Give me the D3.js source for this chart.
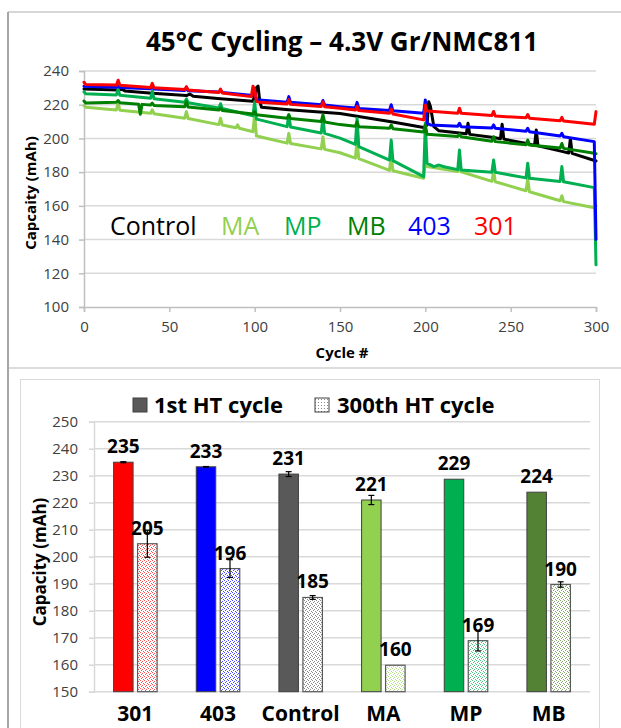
<!DOCTYPE html>
<html><head><meta charset="utf-8">
<script src="https://cdn.jsdelivr.net/npm/d3@7"></script>
<style>body{margin:0;background:#fff}svg{display:block}</style>
</head><body>
<svg id="c" width="621" height="728"></svg>
<script>
// ---------- Top chart data ----------
const lineTitle = "45°C Cycling – 4.3V Gr/NMC811";
const cycleTicks = [0, 50, 100, 150, 200, 250, 300];
const capTicks = [100, 120, 140, 160, 180, 200, 220, 240];
const seriesNames = ["Control", "MA", "MP", "MB", "403", "301"];

const dataControl = [[0,229.3],[20,228.7],[22,229.4],[24,228.2],[40,226.8],[60,225.4],[62,226.3],[64,225],[80,223.5],[99,222],[101,230],[102,231],[103,222],[104,218.5],[120,217],[140,215.5],[150,214.8],[160,213.2],[180,209.9],[199,206.5],[201,208],[202,221.8],[203,219],[205,207],[208,204.5],[224,202.8],[225,209],[226,202.4],[240,200.5],[244,199.8],[245,208.4],[246,199.6],[260,196.8],[264,195.8],[265,205],[266,195.6],[280,192.3],[284,191.4],[285,200],[286,191.1],[300,186.6]];
const dataMA = [[0,219.4],[1,218.5],[19,216.9],[20,221],[21,216.7],[39,214.9],[40,217],[41,214.7],[59,212],[60,215.9],[61,211.8],[79,208.2],[80,212],[81,208],[89,206.3],[90,208],[91,206],[99,204],[100,214.9],[101,201.5],[103,201],[119,197.2],[120,203],[121,197],[139,193.8],[140,201],[141,193.5],[150,191.5],[159,188.3],[160,199],[161,188],[179,181],[180,190],[181,180.8],[199,176.4],[200,186],[201,183.3],[219,180.4],[220,182.5],[221,180.2],[239,174.5],[240,181],[241,174.3],[259,169],[260,176],[261,168.4],[279,163],[280,166],[281,162.5],[299,158.9],[300,160]];
const dataMP = [[0,227.7],[1,226.5],[19,225.8],[20,229.3],[21,225.6],[39,223.8],[40,228],[41,223.6],[59,221.4],[60,223.5],[61,221.2],[79,218],[80,220.6],[81,217.8],[99,213.5],[100,221.8],[101,211.5],[103,211],[119,207],[120,214],[121,206.8],[139,203.2],[140,212],[141,203],[150,200.2],[159,196.5],[160,212],[161,195.2],[179,187.2],[180,199],[181,186.8],[199,177.3],[200,209],[201,185.3],[205,183.3],[208,184.2],[211,183.2],[219,181.5],[220,193.1],[221,181.3],[239,180],[240,187.2],[241,179.9],[259,176.6],[260,185.3],[261,176.4],[279,174.5],[280,183.3],[281,174.3],[299,170.8],[300,125]];
const dataMB = [[0,222.2],[1,221],[19,221.4],[20,222.5],[21,221.2],[32,220.3],[33,214.3],[34,220.2],[39,219.8],[40,221],[41,219.6],[59,218.8],[60,222],[61,218.6],[79,216.8],[80,218],[81,216.6],[99,214.5],[100,216],[101,214],[119,212],[120,214],[121,211.8],[139,210],[140,214],[141,209.8],[150,208.2],[159,207.2],[160,209.9],[161,207],[179,206],[180,208],[181,205.8],[199,203.8],[200,208],[201,202.5],[219,201.2],[220,202.5],[221,201],[239,198.3],[240,201],[241,198.1],[259,196.3],[260,199],[261,196.1],[279,194.3],[280,197],[281,194.1],[299,191.2],[300,191]];
const data403 = [[0,231],[19,230.4],[20,231.5],[21,230.2],[39,229.5],[40,230.5],[41,229.3],[59,228.5],[60,229.5],[61,228.3],[79,227.5],[80,228.5],[81,227.3],[99,225.5],[100,228],[101,223],[119,221.5],[120,224.8],[121,221.4],[139,220],[140,222.5],[141,219.8],[150,218.8],[159,218],[160,221.4],[161,217.8],[179,216.6],[180,220],[181,216.4],[199,214.9],[200,222.8],[201,209],[203,208],[219,207.2],[220,209],[221,207],[239,206.2],[240,208],[241,206],[259,204.2],[260,206],[261,204],[279,201.4],[280,203],[281,201],[299,198.1],[300,140]];
const data301 = [[0,233.3],[1,232],[19,231.7],[20,234.5],[21,231.5],[39,230.2],[40,232.7],[41,230],[59,229],[60,230.7],[61,228.7],[79,227.3],[80,229.3],[81,227],[98,224.8],[99,231],[100,229],[101,222],[103,221.4],[119,220.4],[120,223],[121,220.2],[139,218.9],[140,221.8],[141,218.8],[150,217.9],[159,216.8],[160,219],[161,216.5],[179,214.9],[180,217.5],[181,214.5],[199,211],[200,219.8],[201,216.3],[219,215],[220,217.9],[221,214.9],[239,213.6],[240,216],[241,213.3],[259,212.2],[260,214.2],[261,212],[279,210.5],[280,212.5],[281,210.3],[299,208.4],[300,215.9]];
const lineData = [dataControl, dataMA, dataMP, dataMB, data403, data301];
const lineColors = ["#000000", "#92d050", "#00b050", "#008000", "#0000ff", "#ff0000"];

// ---------- Bottom chart data ----------
const barCategories = ["301", "403", "Control", "MA", "MP", "MB"];
const barLegend = ["1st HT cycle", "300th HT cycle"];
const firstHT = [235.0, 233.3, 230.6, 221.0, 228.7, 223.9];
const firstHTErr = [0.2, 0.1, 0.9, 1.7, 0, 0];
const lastHT = [204.8, 195.6, 184.9, 159.8, 168.9, 189.7];
const lastHTErr = [5.0, 3.3, 0.7, 0, 3.8, 1.0];
const firstLabels = ["235", "233", "231", "221", "229", "224"];
const lastLabels = ["205", "196", "185", "160", "169", "190"];
const barTicks = [150, 160, 170, 180, 190, 200, 210, 220, 230, 240, 250];
const barColors = ["#ff0000", "#0000ff", "#595959", "#92d050", "#00b050", "#548235"];

const FONT = "'Open Sans', 'Noto Sans', sans-serif";
const svg = d3.select("#c").style("font-family", FONT);

// ---------- frames ----------
svg.append("line").attr("x1", 8).attr("x2", 621).attr("y1", 12).attr("y2", 12).attr("stroke", "#c8c8c8").attr("stroke-width", 1.5);
svg.append("line").attr("x1", 8).attr("x2", 621).attr("y1", 368).attr("y2", 368).attr("stroke", "#d0d0d0").attr("stroke-width", 1.5);
svg.append("line").attr("x1", 8).attr("x2", 8).attr("y1", 12).attr("y2", 728).attr("stroke", "#a6a6a6").attr("stroke-width", 2);
svg.append("rect").attr("x", 20.5).attr("y", 379.5).attr("width", 579).attr("height", 360).attr("fill", "none").attr("stroke", "#d9d9d9").attr("stroke-width", 1);

// ---------- top chart ----------
const x1 = d3.scaleLinear().domain([0, 300]).range([84, 596]);
const y1 = d3.scaleLinear().domain([100, 240]).range([307, 71]);

svg.append("g").selectAll("line").data(capTicks.filter(d => d !== 100)).join("line")
  .attr("x1", x1(0)).attr("x2", x1(300)).attr("y1", d => y1(d)).attr("y2", d => y1(d))
  .attr("stroke", "#d9d9d9").attr("stroke-width", 1.5);

const yAx1 = svg.append("g").attr("transform", `translate(${x1(0)},0)`)
  .call(d3.axisLeft(y1).tickValues(capTicks).tickSize(5).tickPadding(10));
const xAx1 = svg.append("g").attr("transform", `translate(0,${y1(100)})`)
  .call(d3.axisBottom(x1).tickValues(cycleTicks).tickSize(5).tickPadding(9));
[yAx1, xAx1].forEach(a => {
  a.select(".domain").attr("stroke", "#bfbfbf").attr("stroke-width", 1.5);
  a.selectAll(".tick line").attr("stroke", "#bfbfbf").attr("stroke-width", 1.5);
  a.selectAll("text").attr("font-size", 15).attr("fill", "#404040").attr("font-family", FONT);
});

const line = d3.line().x(d => x1(d[0])).y(d => y1(d[1]));
svg.append("g").selectAll("path").data(lineData).join("path")
  .attr("d", line).attr("fill", "none")
  .attr("stroke", (d, i) => lineColors[i]).attr("stroke-width", 3)
  .attr("stroke-linejoin", "round").attr("stroke-linecap", "round");

svg.append("text").attr("x", 342).attr("y", 51).attr("text-anchor", "middle")
  .attr("font-size", 26).attr("font-weight", "bold").attr("fill", "#000").text(lineTitle);
svg.append("text").attr("x", 342).attr("y", 358).attr("text-anchor", "middle")
  .attr("font-size", 15).attr("font-weight", "bold").attr("fill", "#000").text("Cycle #");
svg.append("text").attr("transform", "translate(36,193) rotate(-90)").attr("text-anchor", "middle")
  .attr("font-size", 15).attr("font-weight", "bold").attr("fill", "#000").text("Capcaity (mAh)");

const legendX = [110, 221, 284, 347, 408, 474];
svg.append("g").selectAll("text").data(seriesNames).join("text")
  .attr("x", (d, i) => legendX[i]).attr("y", 235)
  .attr("font-size", 25).attr("fill", (d, i) => lineColors[i]).text(d => d);

// ---------- bottom chart ----------
const defs = svg.append("defs");
barColors.forEach((c, i) => {
  const p = defs.append("pattern").attr("id", "pat" + i).attr("patternUnits", "userSpaceOnUse")
    .attr("width", 4).attr("height", 4);
  p.append("rect").attr("width", 4).attr("height", 4).attr("fill", "#fff");
  [[0,0],[2,1],[1,2],[3,3]].forEach(([a, b]) =>
    p.append("rect").attr("x", a).attr("y", b).attr("width", 1).attr("height", 1).attr("fill", c).attr("opacity", 0.7));
});

const xb = d3.scaleBand().domain(barCategories).range([94, 590]);
const yb = d3.scaleLinear().domain([150, 250]).range([691.7, 421.7]);

svg.append("g").selectAll("line").data(barTicks.filter(d => d !== 150)).join("line")
  .attr("x1", 94).attr("x2", 590).attr("y1", d => yb(d)).attr("y2", d => yb(d))
  .attr("stroke", "#d9d9d9").attr("stroke-width", 1.5);
const yAx2 = svg.append("g").attr("transform", "translate(94,0)")
  .call(d3.axisLeft(yb).tickValues(barTicks).tickSize(5).tickPadding(11));
yAx2.select(".domain").attr("stroke", "#d9d9d9").attr("stroke-width", 1.5);
yAx2.selectAll(".tick line").attr("stroke", "#d9d9d9").attr("stroke-width", 1.5);
yAx2.selectAll("text").attr("font-size", 15).attr("fill", "#404040").attr("font-family", FONT);
svg.append("line").attr("x1", 94).attr("x2", 590).attr("y1", yb(150)).attr("y2", yb(150))
  .attr("stroke", "#d9d9d9").attr("stroke-width", 1.5);

const bw = 19.5, gap = 4.5;
const cx = c => xb(c) + xb.bandwidth() / 2;
const bx0 = c => cx(c) - gap / 2 - bw;
const bx1 = c => cx(c) + gap / 2;

const gb = svg.append("g");
gb.selectAll("rect.a").data(barCategories).join("rect").attr("class", "a")
  .attr("x", d => bx0(d)).attr("width", bw)
  .attr("y", (d, i) => yb(firstHT[i])).attr("height", (d, i) => yb(150) - yb(firstHT[i]))
  .attr("fill", (d, i) => barColors[i]).attr("stroke", "#404040").attr("stroke-width", 1);
gb.selectAll("rect.b").data(barCategories).join("rect").attr("class", "b")
  .attr("x", d => bx1(d)).attr("width", bw)
  .attr("y", (d, i) => yb(lastHT[i])).attr("height", (d, i) => yb(150) - yb(lastHT[i]))
  .attr("fill", (d, i) => `url(#pat${i})`).attr("stroke", "#595959").attr("stroke-width", 1.2);

function errBars(vals, errs, xf) {
  barCategories.forEach((c, i) => {
    if (!errs[i]) return;
    const xc = xf(c) + bw / 2, t = yb(vals[i] + errs[i]), b = yb(vals[i] - errs[i]);
    gb.append("line").attr("x1", xc).attr("x2", xc).attr("y1", t).attr("y2", b).attr("stroke", "#000").attr("stroke-width", 1.2);
    gb.append("line").attr("x1", xc - 3).attr("x2", xc + 3).attr("y1", t).attr("y2", t).attr("stroke", "#000").attr("stroke-width", 1.2);
    gb.append("line").attr("x1", xc - 3).attr("x2", xc + 3).attr("y1", b).attr("y2", b).attr("stroke", "#000").attr("stroke-width", 1.2);
  });
}
errBars(firstHT, firstHTErr, bx0);
errBars(lastHT, lastHTErr, bx1);

gb.selectAll("text.a").data(barCategories).join("text").attr("class", "a")
  .attr("x", d => bx0(d) + bw / 2).attr("y", (d, i) => yb(firstHT[i]) - 9)
  .attr("text-anchor", "middle").attr("font-size", 19).attr("font-weight", "bold").text((d, i) => firstLabels[i]);
gb.selectAll("text.b").data(barCategories).join("text").attr("class", "b")
  .attr("x", d => bx1(d) + bw / 2).attr("y", (d, i) => yb(lastHT[i]) - 9)
  .attr("text-anchor", "middle").attr("font-size", 19).attr("font-weight", "bold").text((d, i) => lastLabels[i]);

svg.append("g").selectAll("text").data(barCategories).join("text")
  .attr("x", d => cx(d)).attr("y", 721).attr("text-anchor", "middle")
  .attr("font-size", 21).attr("font-weight", "bold").text(d => d);

svg.append("text").attr("transform", "translate(46,562) rotate(-90)").attr("text-anchor", "middle")
  .attr("font-size", 17).attr("font-weight", "bold").text("Capacity (mAh)");

// legend
defs.append("pattern").attr("id", "patLeg").attr("patternUnits", "userSpaceOnUse").attr("width", 3).attr("height", 3)
  .call(p => { p.append("rect").attr("width", 3).attr("height", 3).attr("fill", "#fff");
               p.append("rect").attr("width", 1).attr("height", 1).attr("fill", "#888"); });
const legSq = [133, 315], legTx = [154, 337];
barLegend.forEach((t, i) => {
  svg.append("rect").attr("x", legSq[i]).attr("y", 398).attr("width", 14).attr("height", 14)
    .attr("fill", i === 0 ? "#595959" : "url(#patLeg)").attr("stroke", "#404040").attr("stroke-width", 1);
  svg.append("text").attr("x", legTx[i]).attr("y", 413).attr("font-size", 22).attr("font-weight", "bold").text(t);
});
</script>
</body></html>
